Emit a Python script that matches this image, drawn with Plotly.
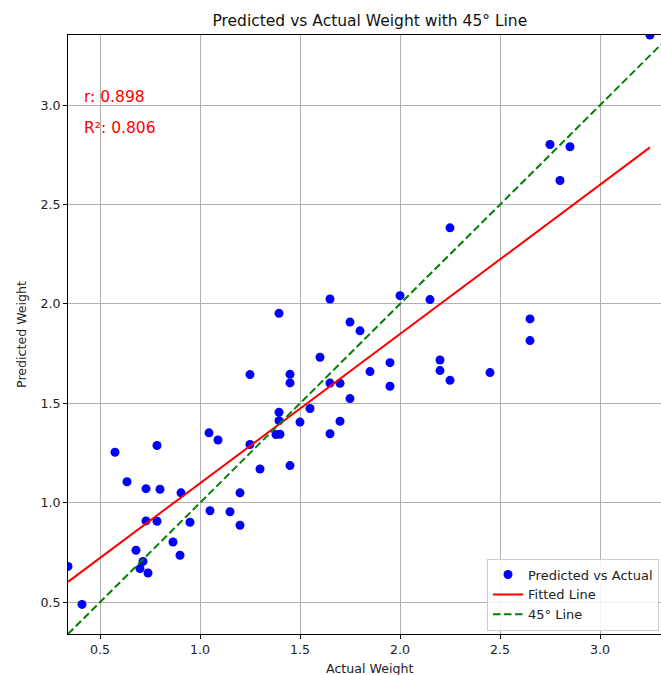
import plotly.graph_objects as go

# ---- data ----
actual = [0.34, 0.41, 0.575, 0.635, 0.68, 0.70, 0.715, 0.73, 0.73, 0.74, 0.785, 0.785, 0.80,
          0.865, 0.90, 0.905, 0.95, 1.05, 1.045, 1.09, 1.15, 1.20, 1.20, 1.25, 1.25, 1.30,
          1.38, 1.40, 1.395, 1.395, 1.395, 1.45, 1.45, 1.45, 1.50, 1.55, 1.60, 1.65, 1.65,
          1.65, 1.70, 1.70, 1.75, 1.75, 1.80, 1.85, 1.95, 1.95, 2.00, 2.15, 2.20, 2.20,
          2.25, 2.25, 2.45, 2.65, 2.65, 2.75, 2.80, 2.85, 3.25]
predicted = [0.680, 0.489, 1.254, 1.106, 0.761, 0.669, 0.705, 0.909, 1.071, 0.647, 1.288, 0.907, 1.068,
             0.803, 0.736, 1.050, 0.902, 0.960, 1.352, 1.316, 0.955, 0.887, 1.050, 1.293, 1.645, 1.170,
             1.343, 1.345, 1.413, 1.455, 1.953, 1.187, 1.603, 1.646, 1.406, 1.474, 1.732, 1.347, 1.602,
             2.025, 1.410, 1.601, 1.524, 1.909, 1.865, 1.660, 1.586, 1.705, 2.042, 2.022, 1.665, 1.718,
             1.616, 2.383, 1.655, 1.816, 1.925, 2.802, 2.621, 2.791, 3.353]

fit_slope = 0.751
fit_intercept = 0.347
r_value = 0.898
r2_value = 0.806
x_ticks = [0.5, 1.0, 1.5, 2.0, 2.5, 3.0]
y_ticks = [0.5, 1.0, 1.5, 2.0, 2.5, 3.0]

lo = min(min(actual), min(predicted))
hi = max(max(actual), max(predicted))
fx = [min(actual), max(actual)]
fy = [fit_slope * v + fit_intercept for v in fx]

FONT = "DejaVu Sans"

fig = go.Figure()
fig.add_trace(go.Scatter(x=actual, y=predicted, mode="markers", name="Predicted vs Actual",
                         marker=dict(color="blue", size=9)))
fig.add_trace(go.Scatter(x=fx, y=fy, mode="lines", name="Fitted Line",
                         line=dict(color="red", width=2)))
fig.add_trace(go.Scatter(x=[lo, hi], y=[lo, hi], mode="lines", name="45° Line",
                         line=dict(color="green", width=2, dash="7.5px,3.5px")))

axis_common = dict(showgrid=True, gridcolor="#b0b0b0", gridwidth=1, zeroline=False,
                   showline=True, linecolor="black", linewidth=1,
                   ticks="outside", ticklen=4, tickcolor="black",
                   tickfont=dict(family=FONT, size=12.6, color="#222"))

fig.update_layout(
    width=661, height=675,
    margin=dict(l=68, r=0, t=35, b=41, autoexpand=False),
    paper_bgcolor="white", plot_bgcolor="white",
    font=dict(family=FONT, color="#222"),
    title=dict(text="Predicted vs Actual Weight with 45° Line", font=dict(family=FONT, size=15.5, color="#111"),
               xref="paper", x=0.509, xanchor="center", yref="paper", y=1, yanchor="bottom",
               pad=dict(b=9)),
    xaxis=dict(range=[lo, 3.305], tickvals=x_ticks, ticktext=[f"{v:.1f}" for v in x_ticks],
               mirror=True, **axis_common),
    yaxis=dict(range=[lo, hi], tickvals=y_ticks, ticktext=[f"{v:.1f}" for v in y_ticks],
               title=dict(text="Predicted Weight", font=dict(family=FONT, size=12.6, color="#222"), standoff=11),
               **axis_common),
    legend=dict(x=0.7066, y=0.126, xanchor="left", yanchor="top",
                bgcolor="rgba(255,255,255,0.85)", bordercolor="#cccccc", borderwidth=1,
                font=dict(family=FONT, size=13, color="#222"), tracegroupgap=0),
    showlegend=True,
)

fig.add_annotation(text="Actual Weight", xref="paper", yref="paper", x=0.509, y=0,
                   yshift=-25, xanchor="center", yanchor="top", showarrow=False,
                   font=dict(family=FONT, size=12.6, color="#222"))
fig.add_annotation(text=f"r: {r_value:.3f}", xref="paper", yref="paper", x=0.023, y=0.897,
                   xanchor="left", yanchor="middle", showarrow=False,
                   font=dict(family=FONT, size=15.5, color="red"))
fig.add_annotation(text=f"R²: {r2_value:.3f}", xref="paper", yref="paper", x=0.023, y=0.844,
                   xanchor="left", yanchor="middle", showarrow=False,
                   font=dict(family=FONT, size=15.5, color="red"))

fig.write_html(
    "out.html",
    config={"displayModeBar": False},
    post_script=("document.documentElement.style.margin='0';document.body.style.margin='0';"
                 "document.documentElement.style.overflow='hidden';document.body.style.overflow='hidden';"),
)
